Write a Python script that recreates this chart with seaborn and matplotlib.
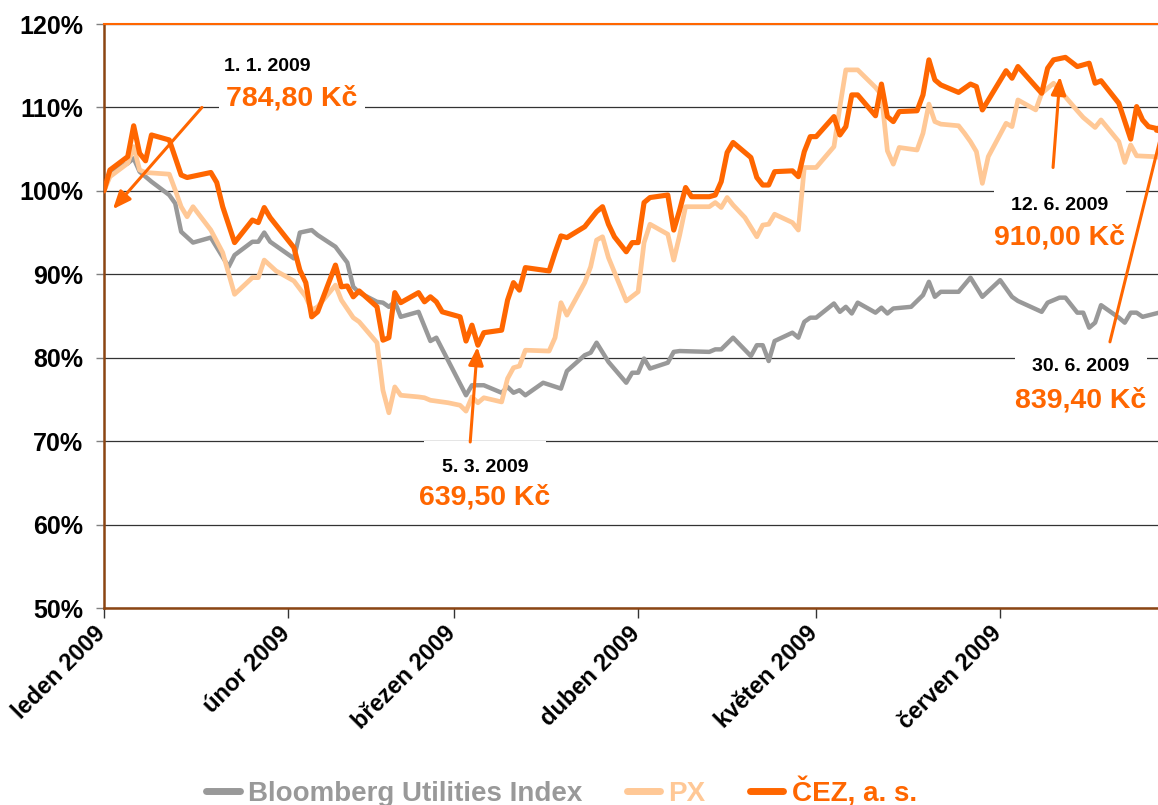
import pandas as pd
import matplotlib.pyplot as plt
import matplotlib.dates as mdates
import matplotlib.transforms as mtransforms
from matplotlib.lines import Line2D
import seaborn as sns

sns.set_theme(style="white")
plt.rcParams['font.family'] = ['Liberation Sans', 'DejaVu Sans']

# --- data (index, 1. 1. 2009 = 100 %) ---
bloomberg_dates = [
    '2009-01-01', '2009-01-02', '2009-01-05', '2009-01-06', '2009-01-07', '2009-01-09', '2009-01-12',
    '2009-01-13', '2009-01-14', '2009-01-16', '2009-01-19', '2009-01-22', '2009-01-23', '2009-01-26',
    '2009-01-27', '2009-01-28', '2009-01-29',
    '2009-02-02', '2009-02-03', '2009-02-05', '2009-02-06', '2009-02-09', '2009-02-11', '2009-02-12',
    '2009-02-13', '2009-02-16', '2009-02-17', '2009-02-18', '2009-02-19', '2009-02-20', '2009-02-23',
    '2009-02-25', '2009-02-26',
    '2009-03-03', '2009-03-04', '2009-03-06', '2009-03-09', '2009-03-10', '2009-03-11', '2009-03-12',
    '2009-03-13', '2009-03-16', '2009-03-19', '2009-03-20', '2009-03-23', '2009-03-24', '2009-03-25',
    '2009-03-27', '2009-03-30', '2009-03-31',
    '2009-04-01', '2009-04-02', '2009-04-03', '2009-04-06', '2009-04-07', '2009-04-08', '2009-04-13',
    '2009-04-14', '2009-04-15', '2009-04-17', '2009-04-20', '2009-04-21', '2009-04-22', '2009-04-23',
    '2009-04-24', '2009-04-27', '2009-04-28', '2009-04-29', '2009-04-30',
    '2009-05-01', '2009-05-04', '2009-05-05', '2009-05-06', '2009-05-07', '2009-05-08', '2009-05-11',
    '2009-05-12', '2009-05-13', '2009-05-14', '2009-05-17', '2009-05-19', '2009-05-20', '2009-05-21',
    '2009-05-22', '2009-05-25', '2009-05-27', '2009-05-29',
    '2009-06-01', '2009-06-03', '2009-06-04', '2009-06-08', '2009-06-09', '2009-06-11', '2009-06-12',
    '2009-06-14', '2009-06-15', '2009-06-16', '2009-06-17', '2009-06-18', '2009-06-21', '2009-06-22',
    '2009-06-23', '2009-06-24', '2009-06-25', '2009-06-30',
]
bloomberg_values = [
    100.0, 102.3, 103.3, 103.9, 102.3, 101.1, 99.5, 98.5, 95.1, 93.8, 94.4, 90.9, 92.3, 93.9, 93.9, 95.0, 93.9,
    91.9, 95.0, 95.3, 94.7, 93.3, 91.4, 88.5, 87.8, 86.7, 86.6, 86.1, 86.7, 84.9, 85.5, 82.0, 82.4,
    75.5, 76.7, 76.7, 75.8, 76.5, 75.8, 76.1, 75.5, 77.0, 76.3, 78.4, 80.3, 80.6, 81.8, 79.5, 77.0, 78.2,
    78.2, 79.9, 78.7, 79.4, 80.7, 80.8, 80.7, 81.0, 81.0, 82.4, 80.2, 81.5, 81.5, 79.6, 82.0, 83.0, 82.4,
    84.3, 84.8,
    84.8, 86.5, 85.5, 86.1, 85.3, 86.6, 85.4, 86.0, 85.3, 85.9, 86.1, 87.5, 89.1, 87.3, 87.9, 87.9, 89.6, 87.3,
    89.3, 87.3, 86.8, 85.5, 86.6, 87.2, 87.2, 85.4, 85.4, 83.6, 84.2, 86.3, 84.8, 84.2, 85.4, 85.4, 84.9, 85.8,
]

px_dates = [
    '2009-01-01', '2009-01-02', '2009-01-05', '2009-01-06', '2009-01-07', '2009-01-08', '2009-01-12',
    '2009-01-13', '2009-01-14', '2009-01-15', '2009-01-16', '2009-01-19', '2009-01-21', '2009-01-23',
    '2009-01-26', '2009-01-27', '2009-01-28', '2009-01-30',
    '2009-02-02', '2009-02-04', '2009-02-05', '2009-02-06', '2009-02-09', '2009-02-10', '2009-02-12',
    '2009-02-13', '2009-02-16', '2009-02-17', '2009-02-18', '2009-02-19', '2009-02-20', '2009-02-23',
    '2009-02-24', '2009-02-25', '2009-02-28',
    '2009-03-02', '2009-03-03', '2009-03-04', '2009-03-05', '2009-03-06', '2009-03-09', '2009-03-10',
    '2009-03-11', '2009-03-12', '2009-03-13', '2009-03-17', '2009-03-18', '2009-03-19', '2009-03-20',
    '2009-03-23', '2009-03-24', '2009-03-25', '2009-03-26', '2009-03-27', '2009-03-30',
    '2009-04-01', '2009-04-02', '2009-04-03', '2009-04-06', '2009-04-07', '2009-04-08', '2009-04-09',
    '2009-04-10', '2009-04-13', '2009-04-14', '2009-04-15', '2009-04-16', '2009-04-17', '2009-04-19',
    '2009-04-21', '2009-04-22', '2009-04-23', '2009-04-24', '2009-04-27', '2009-04-28', '2009-04-29',
    '2009-05-01', '2009-05-04', '2009-05-05', '2009-05-06', '2009-05-08', '2009-05-11', '2009-05-12',
    '2009-05-13', '2009-05-14', '2009-05-15', '2009-05-18', '2009-05-19', '2009-05-20', '2009-05-21',
    '2009-05-22', '2009-05-25', '2009-05-26', '2009-05-27', '2009-05-28', '2009-05-29', '2009-05-30',
    '2009-06-02', '2009-06-03', '2009-06-04', '2009-06-07', '2009-06-08', '2009-06-10', '2009-06-11',
    '2009-06-14', '2009-06-15', '2009-06-17', '2009-06-18', '2009-06-21', '2009-06-22', '2009-06-23',
    '2009-06-24', '2009-06-27', '2009-06-30',
]
px_values = [
    100.0, 101.7, 103.3, 105.3, 102.5, 102.2, 102.0, 100.1, 98.1, 96.9, 98.1, 95.3, 92.6, 87.6, 89.6, 89.6,
    91.7, 90.4,
    89.2, 87.3, 85.7, 86.1, 88.7, 86.9, 84.8, 84.3, 81.8, 76.1, 73.4, 76.5, 75.5, 75.3, 75.2, 74.9, 74.6,
    74.3, 73.6, 75.3, 74.6, 75.2, 74.7, 77.5, 78.8, 79.0, 80.9, 80.8, 82.4, 86.6, 85.1, 89.0, 90.9, 94.1,
    94.5, 92.0, 86.8,
    87.9, 93.8, 96.0, 94.8, 91.7, 94.7, 98.1, 98.1, 98.1, 98.6, 98.0, 99.2, 98.3, 96.8, 94.5, 95.9, 96.0,
    97.2, 96.2, 95.3, 102.8,
    102.8, 105.3, 110.1, 114.5, 114.5, 112.4, 111.5, 104.8, 103.2, 105.2, 104.9, 106.9, 110.4, 108.3, 108.0,
    107.8, 106.9, 105.9, 104.7, 100.9, 104.1,
    108.1, 107.7, 110.9, 109.7, 111.7, 112.9, 112.1, 109.6, 108.8, 107.6, 108.5, 105.9, 103.4, 105.5, 104.2,
    104.1, 103.8,
]

cez_dates = [
    '2009-01-01', '2009-01-02', '2009-01-05', '2009-01-06', '2009-01-07', '2009-01-08', '2009-01-09',
    '2009-01-12', '2009-01-14', '2009-01-15', '2009-01-19', '2009-01-20', '2009-01-21', '2009-01-23',
    '2009-01-26', '2009-01-27', '2009-01-28', '2009-01-29',
    '2009-02-02', '2009-02-03', '2009-02-04', '2009-02-05', '2009-02-06', '2009-02-09', '2009-02-10',
    '2009-02-11', '2009-02-12', '2009-02-13', '2009-02-16', '2009-02-17', '2009-02-18', '2009-02-19',
    '2009-02-20', '2009-02-23', '2009-02-24', '2009-02-25', '2009-02-26', '2009-02-27',
    '2009-03-02', '2009-03-03', '2009-03-04', '2009-03-05', '2009-03-06', '2009-03-09', '2009-03-10',
    '2009-03-11', '2009-03-12', '2009-03-13', '2009-03-17', '2009-03-18', '2009-03-19', '2009-03-20',
    '2009-03-23', '2009-03-25', '2009-03-26', '2009-03-27', '2009-03-28', '2009-03-30', '2009-03-31',
    '2009-04-01', '2009-04-02', '2009-04-03', '2009-04-06', '2009-04-07', '2009-04-08', '2009-04-09',
    '2009-04-10', '2009-04-13', '2009-04-14', '2009-04-15', '2009-04-16', '2009-04-17', '2009-04-20',
    '2009-04-21', '2009-04-22', '2009-04-23', '2009-04-24', '2009-04-27', '2009-04-28', '2009-04-29',
    '2009-04-30',
    '2009-05-01', '2009-05-04', '2009-05-05', '2009-05-06', '2009-05-07', '2009-05-08', '2009-05-11',
    '2009-05-12', '2009-05-13', '2009-05-14', '2009-05-15', '2009-05-18', '2009-05-19', '2009-05-20',
    '2009-05-21', '2009-05-22', '2009-05-25', '2009-05-27', '2009-05-28', '2009-05-29',
    '2009-06-02', '2009-06-03', '2009-06-04', '2009-06-08', '2009-06-09', '2009-06-10', '2009-06-12',
    '2009-06-14', '2009-06-16', '2009-06-17', '2009-06-18', '2009-06-21', '2009-06-23', '2009-06-24',
    '2009-06-25', '2009-06-26', '2009-06-29', '2009-06-30',
]
cez_values = [
    100.0, 102.5, 104.1, 107.8, 104.5, 103.6, 106.7, 106.1, 101.9, 101.6, 102.2, 101.0, 98.1, 93.8, 96.5,
    96.2, 98.0, 96.8,
    93.2, 90.5, 89.0, 84.9, 85.5, 91.1, 88.5, 88.6, 87.3, 88.0, 86.1, 82.1, 82.4, 87.8, 86.6, 87.8, 86.7,
    87.3, 86.7, 85.5,
    84.9, 82.0, 83.9, 81.5, 83.0, 83.3, 86.9, 89.0, 88.1, 90.8, 90.4, 92.6, 94.6, 94.4, 95.7, 97.5, 98.1,
    96.0, 94.5, 92.7, 93.8,
    93.8, 98.6, 99.2, 99.5, 95.3, 97.7, 100.4, 99.3, 99.3, 99.5, 101.1, 104.6, 105.8, 104.0, 101.6, 100.7,
    100.7, 102.3, 102.4, 101.7, 104.7, 106.5,
    106.5, 108.9, 106.7, 107.7, 111.5, 111.5, 109.0, 112.8, 108.9, 108.3, 109.5, 109.6, 111.5, 115.7, 113.3,
    112.7, 111.8, 112.8, 112.5, 109.7,
    114.4, 113.5, 114.9, 111.7, 114.7, 115.7, 116.0, 114.9, 115.3, 112.9, 113.2, 110.5, 106.2, 110.1, 108.5,
    107.7, 107.2, 107.0,
]

series_labels = ['Bloomberg Utilities Index', 'PX', 'ČEZ, a. s.']
month_labels = ['leden 2009', 'únor 2009', 'březen 2009', 'duben 2009', 'květen 2009', 'červen 2009']
month_starts = ['2009-01-01', '2009-02-01', '2009-03-01', '2009-04-01', '2009-05-01', '2009-06-01']

# anotace: datum, cena
notes = [('1. 1. 2009', '784,80 Kč'), ('5. 3. 2009', '639,50 Kč'),
         ('12. 6. 2009', '910,00 Kč'), ('30. 6. 2009', '839,40 Kč')]

ORANGE = '#FF6600'
colors = ['#999999', '#FFC896', ORANGE]
widths = [3.2, 3.4, 3.7]


def d(s):
    return mdates.date2num(pd.Timestamp(s))


fig = plt.figure(figsize=(11.58, 8.05), dpi=100)
ax = fig.add_axes([104 / 1158, 197 / 805, 1 - 104 / 1158, 584 / 805])

all_series = [(bloomberg_dates, bloomberg_values), (px_dates, px_values), (cez_dates, cez_values)]
for i, (dates, vals) in enumerate(all_series):
    df = pd.DataFrame({'datum': pd.to_datetime(dates), 'hodnota': vals})
    sns.lineplot(data=df, x='datum', y='hodnota', color=colors[i], linewidth=widths[i],
                 ax=ax, zorder=2 + i, estimator=None)

ax.set_xlim(d('2009-01-01'), d('2009-01-01') + 177.6)
ax.set_ylim(50, 120)
ax.set_xlabel('')
ax.set_ylabel('')

ax.set_yticks(range(50, 121, 10))
ax.set_yticklabels([f'{v}%' for v in range(50, 121, 10)])
ax.set_xticks([d(m) for m in month_starts])
ax.set_xticklabels(month_labels, rotation=45, ha='right', va='top', rotation_mode='anchor')

ax.set_axisbelow(True)
ax.yaxis.grid(True, color='#333333', linewidth=0.9)
ax.xaxis.grid(False)

ax.spines['right'].set_visible(False)
ax.spines['top'].set_color(ORANGE)
ax.spines['top'].set_linewidth(1.5)
for side in ['left', 'bottom']:
    ax.spines[side].set_color('#8B4513')
    ax.spines[side].set_linewidth(1.8)

ax.tick_params(axis='y', left=True, direction='out', length=6, width=1, color='#808080',
               pad=9, labelsize=18)
ax.tick_params(axis='x', bottom=True, direction='out', length=7, width=1, color='#333333',
               pad=3, labelsize=17)
shift = mtransforms.ScaledTranslation(-10 / 100, 0, fig.dpi_scale_trans)
for lab in ax.get_xticklabels():
    lab.set_transform(lab.get_transform() + shift)
for lab in ax.get_xticklabels() + ax.get_yticklabels():
    lab.set_fontweight('bold')
    lab.set_color('black')

# šipky a popisky
arrows = [
    (('2009-01-02 12:00', 97.8), ('2009-01-17 12:00', 110.0)),
    (('2009-03-04 22:00', 81.3), ('2009-03-03 17:00', 69.9)),
    (('2009-06-11 02:00', 113.7), ('2009-06-09 22:00', 102.8)),
    (('2009-06-29 00:00', 109.2), ('2009-06-19 12:00', 81.9)),
]
label_pos = [
    (('2009-01-28 12:00', 114.9), ('2009-02-01 17:00', 111.1)),
    (('2009-03-06 05:00', 66.9), ('2009-03-06 05:00', 63.2)),
    (('2009-06-11 02:00', 98.2), ('2009-06-11 02:00', 94.4)),
    (('2009-06-14 14:00', 78.9), ('2009-06-14 14:00', 74.9)),
]

for (date_txt, price_txt), (tip, tail), (p1, p2) in zip(notes, arrows, label_pos):
    ax.text(d(p1[0]), p1[1], date_txt, ha='center', va='center', fontsize=14, fontweight='bold',
            color='black', zorder=1.5,
            bbox=dict(boxstyle='square,pad=0.9', facecolor='white', edgecolor='none'))
    ax.text(d(p2[0]), p2[1], price_txt, ha='center', va='center', fontsize=20.5, fontweight='bold',
            color=ORANGE, zorder=1.6,
            bbox=dict(boxstyle='square,pad=0.25', facecolor='white', edgecolor='none'))
    ax.annotate('', xy=(d(tip[0]), tip[1]), xytext=(d(tail[0]), tail[1]),
                arrowprops=dict(arrowstyle='-|>,head_length=0.6,head_width=0.25', color=ORANGE,
                                lw=2.2, shrinkA=0, shrinkB=0, mutation_scale=18),
                zorder=6, annotation_clip=False)

# legenda
handles = [Line2D([0], [0], color=c, lw=5) for c in colors]
leg = fig.legend(handles, series_labels, loc='center', bbox_to_anchor=(0.485, 0.016), ncol=3,
                 frameon=False, handlelength=1.2, handletextpad=0.3, columnspacing=1.6,
                 prop={'weight': 'bold', 'size': 20})
for txt, c in zip(leg.get_texts(), colors):
    txt.set_color(c)

fig.savefig('out.png', dpi=100)
